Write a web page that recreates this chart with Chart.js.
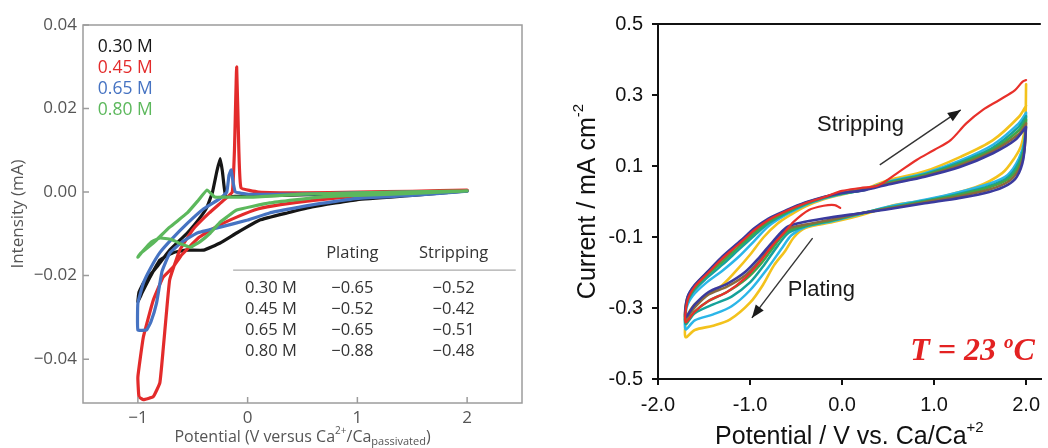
<!DOCTYPE html>
<html>
<head>
<meta charset="utf-8">
<script src="https://cdn.jsdelivr.net/npm/chart.js@4.4.0/dist/chart.umd.min.js"></script>
<style>
  html, body { margin: 0; padding: 0; background: #fff; }
  #wrap { position: relative; width: 1048px; height: 448px; overflow: hidden; }
  #left { position: absolute; left: 0; top: 0; }
  #right { position: absolute; left: 530px; top: 0; }
</style>
</head>
<body>
<div id="wrap">
  <canvas id="left" width="530" height="448"></canvas>
  <canvas id="right" width="518" height="448"></canvas>
</div>
<script>
// ---- left panel: CVs at four concentrations ----
const leftLabels = ['0.30 M', '0.45 M', '0.65 M', '0.80 M'];
const leftXTicks = [-1, 0, 1, 2];
const leftYTicks = [-0.04, -0.02, 0, 0.02, 0.04];

const leftBlackX = [2.0, 1.5, 1.0, 0.6, 0.36, 0.11, -0.1, -0.25, -0.4, -0.56, -0.68, -0.8, -0.89, -0.96, -1.0, -0.99, -0.95, -0.83, -0.71, -0.55, -0.43, -0.37, -0.32, -0.28, -0.25, -0.23, -0.2, -0.1, 0.3, 1.0, 2.0];
const leftBlackY = [0.0003, -0.0008, -0.0018, -0.0035, -0.005, -0.0067, -0.0098, -0.0122, -0.0139, -0.0139, -0.0145, -0.0163, -0.0204, -0.024, -0.0263, -0.024, -0.0218, -0.018, -0.0139, -0.0098, -0.006, -0.0036, 0.0, 0.005, 0.008, 0.005, -0.001, -0.001, -0.0008, -0.0003, 0.0003];

const leftRedX = [2.0, 1.5, 1.0, 0.6, 0.3, 0.1, -0.1, -0.3, -0.45, -0.6, -0.68, -0.77, -0.86, -0.95, -1.0, -0.99, -0.95, -0.86, -0.8, -0.77, -0.74, -0.71, -0.62, -0.5, -0.35, -0.22, -0.14, -0.12, -0.1, -0.08, -0.06, 0.1, 0.5, 1.0, 1.5, 2.0];
const leftRedY = [0.0004, -0.0003, -0.001, -0.002, -0.003, -0.004, -0.006, -0.0085, -0.011, -0.015, -0.018, -0.0204, -0.0259, -0.0347, -0.0443, -0.049, -0.0497, -0.049, -0.0457, -0.0378, -0.029, -0.021, -0.014, -0.009, -0.005, -0.002, 0.0, 0.01, 0.03, 0.01, 0.001, 0.0, -0.0002, 0.0, 0.0002, 0.0005];

const leftBlueX = [2.0, 1.5, 1.0, 0.6, 0.2, 0.0, -0.25, -0.46, -0.6, -0.71, -0.78, -0.83, -0.88, -0.92, -1.0, -1.0, -0.95, -0.88, -0.8, -0.7, -0.55, -0.4, -0.25, -0.19, -0.17, -0.15, -0.13, -0.11, 0.0, 0.5, 1.0, 2.0];
const leftBlueY = [0.0002, -0.0008, -0.0015, -0.003, -0.005, -0.0067, -0.0084, -0.0098, -0.012, -0.0146, -0.019, -0.0266, -0.031, -0.033, -0.033, -0.0266, -0.0218, -0.018, -0.0145, -0.0115, -0.0075, -0.004, -0.0015, 0.0, 0.004, 0.0053, 0.002, 0.0, -0.0005, -0.0005, -0.0002, 0.0002];

const leftGreenX = [2.0, 1.5, 1.0, 0.66, 0.2, -0.1, -0.19, -0.25, -0.34, -0.43, -0.52, -0.6, -0.7, -0.8, -0.88, -0.95, -1.0, -0.98, -0.86, -0.71, -0.55, -0.45, -0.37, -0.3, -0.2, 0.05, 0.5, 1.0, 2.0];
const leftGreenY = [0.0003, -0.0003, -0.0008, -0.0012, -0.0026, -0.0043, -0.006, -0.0072, -0.0098, -0.0118, -0.0132, -0.0125, -0.0113, -0.011, -0.012, -0.014, -0.0156, -0.0148, -0.0122, -0.0084, -0.005, -0.002, 0.0005, -0.0012, -0.0012, -0.0012, -0.0005, -0.0002, 0.0003];

// table inset
const tableHead = ['Plating', 'Stripping'];
const tablePlating = [-0.65, -0.52, -0.65, -0.88];
const tableStripping = [-0.52, -0.42, -0.51, -0.48];

// ---- right panel: repeated cycles ----
const rightXTicks = [-2, -1, 0, 1, 2];
const rightYTicks = [-0.5, -0.3, -0.1, 0.1, 0.3, 0.5];

const rightRedX = [-0.02, -0.08, -0.2, -0.36, -0.53, -0.62, -0.75, -0.9, -1.05, -1.25, -1.45, -1.6, -1.7, -1.68, -1.6, -1.45, -1.3, -1.1, -0.95, -0.8, -0.6, -0.4, -0.2, 0.0, 0.2, 0.39, 0.6, 0.81, 1.0, 1.18, 1.35, 1.53, 1.71, 1.88, 1.96, 2.0];
const rightRedY = [-0.018, -0.01, -0.012, -0.024, -0.058, -0.085, -0.122, -0.172, -0.215, -0.255, -0.28, -0.31, -0.34, -0.28, -0.24, -0.2, -0.16, -0.115, -0.08, -0.052, -0.026, -0.005, 0.012, 0.03, 0.038, 0.045, 0.08, 0.117, 0.145, 0.173, 0.22, 0.258, 0.286, 0.314, 0.337, 0.342];

const rightYellowX = [2.0, 1.99, 1.95, 1.88, 1.74, 1.45, 0.92, 0.57, 0.25, -0.1, -0.4, -0.52, -0.62, -0.74, -0.86, -1.0, -1.22, -1.4, -1.6, -1.7, -1.69, -1.62, -1.48, -1.3, -1.15, -1.0, -0.85, -0.7, -0.55, -0.4, -0.2, 0.0, 0.25, 0.5, 0.9, 1.28, 1.64, 1.92, 2.0];
const rightYellowY = [0.33, 0.22, 0.16, 0.125, 0.08, 0.04, 0.004, -0.01, -0.035, -0.058, -0.075, -0.1, -0.14, -0.18, -0.235, -0.285, -0.333, -0.35, -0.362, -0.382, -0.33, -0.295, -0.265, -0.235, -0.195, -0.15, -0.1, -0.062, -0.036, -0.014, 0.006, 0.02, 0.036, 0.06, 0.085, 0.125, 0.173, 0.238, 0.27];

const rightCyanX = [2.0, 1.98, 1.92, 1.8, 1.6, 1.28, 0.9, 0.5, 0.2, -0.1, -0.4, -0.55, -0.65, -0.8, -1.0, -1.2, -1.4, -1.6, -1.7, -1.69, -1.62, -1.48, -1.3, -1.12, -0.95, -0.8, -0.6, -0.4, -0.2, 0.0, 0.25, 0.5, 0.9, 1.28, 1.64, 1.92, 2.0];
const rightCyanY = [0.25, 0.17, 0.12, 0.075, 0.05, 0.027, 0.005, -0.015, -0.035, -0.055, -0.072, -0.095, -0.13, -0.185, -0.25, -0.295, -0.318, -0.335, -0.36, -0.3, -0.265, -0.23, -0.195, -0.155, -0.11, -0.07, -0.036, -0.01, 0.008, 0.021, 0.034, 0.056, 0.08, 0.115, 0.16, 0.22, 0.25];

const rightTealX = [2.0, 1.98, 1.92, 1.8, 1.6, 1.28, 0.9, 0.5, 0.2, -0.1, -0.4, -0.58, -0.7, -0.85, -1.0, -1.2, -1.4, -1.6, -1.7, -1.69, -1.62, -1.48, -1.3, -1.12, -0.95, -0.8, -0.6, -0.4, -0.2, 0.0, 0.25, 0.5, 0.9, 1.28, 1.64, 1.92, 2.0];
const rightTealY = [0.24, 0.16, 0.11, 0.068, 0.044, 0.022, 0.002, -0.017, -0.034, -0.053, -0.07, -0.088, -0.125, -0.18, -0.228, -0.268, -0.29, -0.315, -0.345, -0.29, -0.255, -0.218, -0.178, -0.135, -0.095, -0.062, -0.032, -0.008, 0.01, 0.022, 0.033, 0.054, 0.077, 0.11, 0.152, 0.21, 0.24];

const rightGreenX = [2.0, 1.98, 1.92, 1.8, 1.6, 1.28, 0.9, 0.5, 0.2, -0.1, -0.4, -0.6, -0.72, -0.88, -1.05, -1.25, -1.45, -1.6, -1.7, -1.69, -1.62, -1.48, -1.3, -1.12, -0.95, -0.8, -0.6, -0.4, -0.2, 0.0, 0.25, 0.5, 0.9, 1.28, 1.64, 1.92, 2.0];
const rightGreenY = [0.23, 0.15, 0.1, 0.062, 0.04, 0.019, 0.0, -0.019, -0.034, -0.052, -0.068, -0.085, -0.12, -0.175, -0.22, -0.255, -0.28, -0.31, -0.34, -0.285, -0.25, -0.21, -0.17, -0.127, -0.088, -0.057, -0.029, -0.006, 0.011, 0.023, 0.033, 0.052, 0.075, 0.106, 0.147, 0.2, 0.23];

const rightBrownX = [2.0, 1.98, 1.92, 1.8, 1.6, 1.28, 0.9, 0.5, 0.2, -0.1, -0.4, -0.6, -0.75, -0.9, -1.05, -1.25, -1.45, -1.6, -1.7, -1.69, -1.62, -1.48, -1.3, -1.12, -0.95, -0.8, -0.6, -0.4, -0.2, 0.0, 0.25, 0.5, 0.9, 1.28, 1.64, 1.92, 2.0];
const rightBrownY = [0.22, 0.14, 0.09, 0.055, 0.034, 0.015, -0.002, -0.02, -0.033, -0.05, -0.065, -0.078, -0.118, -0.168, -0.208, -0.24, -0.262, -0.298, -0.33, -0.278, -0.243, -0.203, -0.162, -0.118, -0.08, -0.052, -0.026, -0.004, 0.012, 0.025, 0.035, 0.05, 0.072, 0.102, 0.142, 0.19, 0.22];

const rightNavyX = [2.0, 1.97, 1.9, 1.8, 1.6, 1.28, 0.9, 0.5, 0.2, -0.2, -0.45, -0.6, -0.75, -0.9, -1.05, -1.25, -1.45, -1.6, -1.7, -1.68, -1.6, -1.45, -1.3, -1.1, -0.95, -0.8, -0.6, -0.4, -0.2, 0.0, 0.25, 0.5, 0.9, 1.28, 1.64, 1.88, 2.0];
const rightNavyY = [0.21, 0.12, 0.07, 0.047, 0.027, 0.01, -0.005, -0.022, -0.033, -0.048, -0.06, -0.072, -0.112, -0.158, -0.198, -0.232, -0.255, -0.29, -0.325, -0.27, -0.235, -0.195, -0.155, -0.11, -0.075, -0.048, -0.024, -0.003, 0.013, 0.024, 0.032, 0.048, 0.07, 0.097, 0.136, 0.173, 0.21];

function pts(xs, ys) {
    return xs.map((x, i) => ({ x: x, y: ys[i] }));
}

function minus(s) { return s.replace('-', '\u2212'); }

// draws a line of text with super/subscript pieces, centred on cx
function richText(ctx, parts, cx, cy, family, color, weight) {
    ctx.save();
    ctx.fillStyle = color;
    ctx.textBaseline = 'middle';
    ctx.textAlign = 'left';
    let total = 0;
    parts.forEach(p => {
        ctx.font = (weight || '') + ' ' + p.s + 'px ' + family;
        total += ctx.measureText(p.t).width;
    });
    let x = cx - total / 2;
    parts.forEach(p => {
        ctx.font = (weight || '') + ' ' + p.s + 'px ' + family;
        ctx.fillText(p.t, x, cy + (p.dy || 0));
        x += ctx.measureText(p.t).width;
    });
    ctx.restore();
}

function arrow(ctx, x1, y1, x2, y2) {
    ctx.beginPath();
    ctx.moveTo(x1, y1);
    ctx.lineTo(x2, y2);
    ctx.stroke();
    const a = Math.atan2(y2 - y1, x2 - x1), L = 13, W = 5;
    ctx.beginPath();
    ctx.moveTo(x2, y2);
    ctx.lineTo(x2 - L * Math.cos(a) + W * Math.sin(a), y2 - L * Math.sin(a) - W * Math.cos(a));
    ctx.lineTo(x2 - L * Math.cos(a) - W * Math.sin(a), y2 - L * Math.sin(a) + W * Math.cos(a));
    ctx.closePath();
    ctx.fill();
}

const leftFont = '"Open Sans", "Noto Sans", sans-serif';
const rightFont = '"Liberation Sans", Arial, sans-serif';
const leftColors = ['#161616', '#e32b2b', '#4673c2', '#5cb85c'];

// frame, inside ticks, legend, table, titles for the left panel
const leftDecor = {
    id: 'leftDecor',
    afterDatasetsDraw(chart) {
        const { ctx, chartArea: a, scales: { x, y } } = chart;
        ctx.save();
        ctx.strokeStyle = '#9c9c9c';
        ctx.lineWidth = 1.5;
        ctx.strokeRect(a.left, a.top, a.right - a.left, a.bottom - a.top);
        ctx.beginPath();
        leftYTicks.forEach(v => { const p = y.getPixelForValue(v); ctx.moveTo(a.left, p); ctx.lineTo(a.left + 6, p); });
        leftXTicks.forEach(v => { const p = x.getPixelForValue(v); ctx.moveTo(p, a.bottom); ctx.lineTo(p, a.bottom - 6); });
        ctx.stroke();

        // legend text
        ctx.font = '17.5px ' + leftFont;
        ctx.textBaseline = 'middle';
        ctx.textAlign = 'left';
        leftLabels.forEach((t, i) => {
            ctx.fillStyle = leftColors[i];
            ctx.fillText(t, x.getPixelForValue(-1.365), y.getPixelForValue(0.0347 - i * 0.00503));
        });

        // table
        ctx.font = '16.5px ' + leftFont;
        ctx.fillStyle = '#333';
        const c2 = x.getPixelForValue(0.954), c3 = x.getPixelForValue(1.877);
        ctx.textAlign = 'center';
        ctx.fillText(tableHead[0], c2, y.getPixelForValue(-0.0146));
        ctx.fillText(tableHead[1], c3, y.getPixelForValue(-0.0146));
        ctx.strokeStyle = '#aaa';
        ctx.lineWidth = 1.2;
        ctx.beginPath();
        ctx.moveTo(x.getPixelForValue(-0.132), y.getPixelForValue(-0.01868));
        ctx.lineTo(x.getPixelForValue(2.443), y.getPixelForValue(-0.01868));
        ctx.stroke();
        leftLabels.forEach((t, i) => {
            const py = y.getPixelForValue(-0.023 - i * 0.00503);
            ctx.textAlign = 'left';
            ctx.fillText(t, x.getPixelForValue(-0.023), py);
            ctx.textAlign = 'center';
            ctx.fillText(minus(tablePlating[i].toFixed(2)), c2, py);
            ctx.fillText(minus(tableStripping[i].toFixed(2)), c3, py);
        });
        ctx.restore();

        // axis titles
        richText(ctx, [
            { t: 'Potential (V versus Ca', s: 16 },
            { t: '2+', s: 10, dy: -6 },
            { t: '/Ca', s: 16 },
            { t: 'passivated', s: 11, dy: 5 },
            { t: ')', s: 16 }
        ], (a.left + a.right) / 2, 437, leftFont, '#555');
        ctx.save();
        ctx.translate(18, (a.top + a.bottom) / 2);
        ctx.rotate(-Math.PI / 2);
        richText(ctx, [{ t: 'Intensity (mA)', s: 17 }], 0, 0, leftFont, '#555');
        ctx.restore();
    }
};

// top border, annotations, titles for the right panel
const rightDecor = {
    id: 'rightDecor',
    afterDraw(chart) {
        const { ctx, chartArea: a, scales: { x, y } } = chart;
        ctx.save();
        ctx.strokeStyle = '#111';
        ctx.lineWidth = 2;
        ctx.beginPath();
        ctx.moveTo(a.left - 1, a.top);
        ctx.lineTo(a.right, a.top);
        ctx.stroke();

        ctx.fillStyle = '#1a1a1a';
        ctx.font = '22px ' + rightFont;
        ctx.textAlign = 'center';
        ctx.textBaseline = 'middle';
        ctx.fillText('Stripping', x.getPixelForValue(0.2), y.getPixelForValue(0.215));
        ctx.fillText('Plating', x.getPixelForValue(-0.225), y.getPixelForValue(-0.249));

        ctx.strokeStyle = '#333';
        ctx.fillStyle = '#1a1a1a';
        ctx.lineWidth = 1.4;
        arrow(ctx, x.getPixelForValue(0.41), y.getPixelForValue(0.103), x.getPixelForValue(1.29), y.getPixelForValue(0.258));
        arrow(ctx, x.getPixelForValue(-0.32), y.getPixelForValue(-0.103), x.getPixelForValue(-0.98), y.getPixelForValue(-0.328));

        // temperature label
        ctx.fillStyle = '#e32222';
        ctx.textAlign = 'left';
        ctx.textBaseline = 'alphabetic';
        const tx = x.getPixelForValue(0.74), ty = y.getPixelForValue(-0.446);
        const serif = '"Liberation Serif", "Times New Roman", serif';
        ctx.font = 'italic bold 32px ' + serif;
        const part1 = 'T = 23 ';
        ctx.fillText(part1, tx, ty);
        let cx = tx + ctx.measureText(part1).width;
        ctx.font = 'italic bold 19px ' + serif;
        ctx.fillText('o', cx, ty - 12);
        cx += ctx.measureText('o').width;
        ctx.font = 'italic bold 32px ' + serif;
        ctx.fillText('C', cx, ty);
        ctx.restore();

        richText(ctx, [
            { t: 'Potential / V vs. Ca/Ca', s: 25 },
            { t: '+2', s: 15, dy: -9 }
        ], (a.left + a.right) / 2, 437, rightFont, '#111');
        ctx.save();
        ctx.translate(58, (a.top + a.bottom) / 2);
        ctx.rotate(-Math.PI / 2);
        richText(ctx, [
            { t: 'Current / mA cm', s: 25 },
            { t: '-2', s: 15, dy: -9 }
        ], 0, 0, rightFont, '#111');
        ctx.restore();
    }
};

function line(data, color, order, width, tension) {
    return {
        data: data, showLine: true, borderColor: color, backgroundColor: color,
        borderWidth: width, tension: tension, order: order, pointRadius: 0,
        borderJoinStyle: 'round', borderCapStyle: 'round', fill: false
    };
}

new Chart(document.getElementById('left'), {
    type: 'scatter',
    data: {
        datasets: [
            line(pts(leftBlackX, leftBlackY), leftColors[0], 3, 3.2, 0.1),
            line(pts(leftRedX, leftRedY), leftColors[1], 2, 3.2, 0.1),
            line(pts(leftBlueX, leftBlueY), leftColors[2], 1, 3.2, 0.1),
            line(pts(leftGreenX, leftGreenY), leftColors[3], 0, 3.2, 0.1)
        ]
    },
    options: {
        responsive: false,
        animation: false,
        layout: { padding: { top: 25, right: 8, left: 0, bottom: 0 } },
        plugins: { legend: { display: false }, tooltip: { enabled: false } },
        scales: {
            x: {
                type: 'linear', min: -1.5, max: 2.5,
                afterBuildTicks: s => { s.ticks = leftXTicks.map(v => ({ value: v })); },
                afterFit: s => { s.height = 45; },
                grid: { display: false, drawTicks: false },
                border: { display: false },
                ticks: {
                    autoSkip: false, maxRotation: 0, padding: 5, color: '#555',
                    font: { family: leftFont, size: 17 },
                    callback: v => minus(String(v))
                }
            },
            y: {
                type: 'linear', min: -0.0505, max: 0.04,
                afterBuildTicks: s => { s.ticks = leftYTicks.map(v => ({ value: v })); },
                afterFit: s => { s.width = 83; },
                grid: { display: false, drawTicks: false },
                border: { display: false },
                ticks: {
                    autoSkip: false, padding: 6, color: '#555',
                    font: { family: leftFont, size: 17 },
                    callback: v => minus(v.toFixed(2))
                }
            }
        }
    },
    plugins: [leftDecor]
});

new Chart(document.getElementById('right'), {
    type: 'scatter',
    data: {
        datasets: [
            line(pts(rightRedX, rightRedY), '#e8302a', 0, 2.2, 0.3),
            line(pts(rightNavyX, rightNavyY), '#3a3a9e', 1, 2.6, 0.3),
            line(pts(rightBrownX, rightBrownY), '#8a6a3c', 2, 2.5, 0.3),
            line(pts(rightGreenX, rightGreenY), '#3fa64a', 3, 2.5, 0.3),
            line(pts(rightTealX, rightTealY), '#15a29a', 4, 2.5, 0.3),
            line(pts(rightCyanX, rightCyanY), '#2cb6e8', 5, 2.5, 0.3),
            line(pts(rightYellowX, rightYellowY), '#f3c21c', 6, 2.6, 0.3)
        ]
    },
    options: {
        responsive: false,
        animation: false,
        layout: { padding: { top: 24, right: 0, left: 0, bottom: 0 } },
        plugins: { legend: { display: false }, tooltip: { enabled: false } },
        scales: {
            x: {
                type: 'linear', min: -2, max: 2.16,
                afterBuildTicks: s => { s.ticks = rightXTicks.map(v => ({ value: v })); },
                afterFit: s => { s.height = 69; },
                grid: { display: true, drawOnChartArea: false, drawTicks: true, tickLength: 6, color: '#111', lineWidth: 2 },
                border: { display: true, color: '#111', width: 2 },
                ticks: {
                    autoSkip: false, maxRotation: 0, padding: 8, color: '#111',
                    font: { family: rightFont, size: 20 },
                    callback: v => v.toFixed(1)
                }
            },
            y: {
                type: 'linear', min: -0.5, max: 0.5,
                afterBuildTicks: s => { s.ticks = rightYTicks.map(v => ({ value: v })); },
                afterFit: s => { s.width = 128; },
                grid: { display: true, drawOnChartArea: false, drawTicks: true, tickLength: 6, color: '#111', lineWidth: 2 },
                border: { display: true, color: '#111', width: 2 },
                ticks: {
                    autoSkip: false, padding: 9, color: '#111',
                    font: { family: rightFont, size: 20 },
                    callback: v => v.toFixed(1)
                }
            }
        }
    },
    plugins: [rightDecor]
});
</script>
</body>
</html>
